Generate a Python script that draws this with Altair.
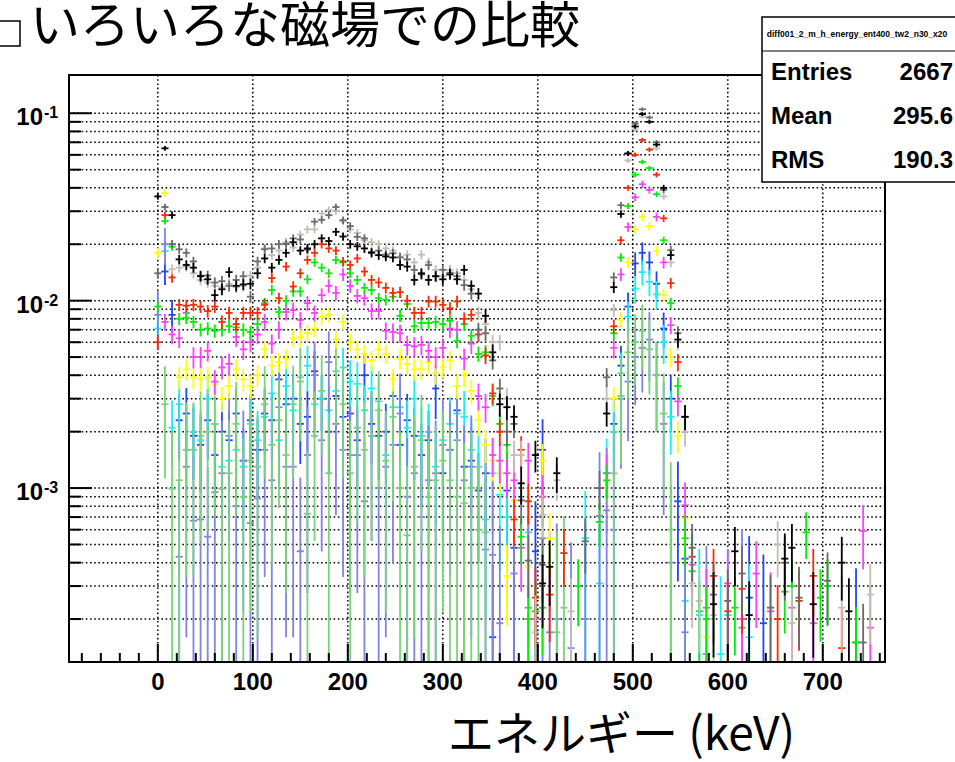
import math

import altair as alt
import pandas as pd

# ---------------------------------------------------------------------------
# Histogram contents: energy spectra for several magnetic-field settings,
# each normalised to unit area.  Bin i is centred at i * BIN_WIDTH keV.
# Values are in units of 1e-4; None marks an empty bin.
# ---------------------------------------------------------------------------
BIN_WIDTH = 7.5
N_BINS = 103
BIN_CENTERS = [BIN_WIDTH * i for i in range(N_BINS)]
UNIT = 1e-4
N = None

black = [
    360, 650, 286, 166, 155, 150, 135, 130, 107, 115,
    142, 120, 122, 123, 140, 168, 150, 165, 180, 205,
    185, 190, 200, 215, 208, 233, 220, 200, 195, 190,
    180, 175, 172, 170, 155, 152, 129, 140, 129, 135,
    130, 138, 130, 146, 120, 109, 83, 53, 28, 27,
    24, 10.6, N, 15, 3.1, 3.8, 12, N, N, N,
    N, N, N, 25, 118, 290, 610, 850, 990, 900,
    680, 400, 175, 62, 24, N, N, N, 2.4, N,
    N, 4.6, N, 2.1, N, N, N, N, 4.2, 4.8,
    N, N, 2.4, N, N, N, 4.0, 2.2, N, N,
    N, N, N,
]
gray = [
    140, 316, 200, 188, 180, 162, 136, 136, 125, 127,
    120, 129, 135, 105, 162, 188, 190, 200, 201, 215,
    212, 187, 264, 270, 286, 316, 269, 250, 219, 215,
    182, 185, 176, 179, 170, 166, 146, 138, 155, 135,
    146, 141, 135, 121, 109, 70, 67, 48, 34, 20,
    22, 8.6, 4.1, N, 3.9, N, N, N, N, N,
    5.2, N, 10, 39, 133, 323, 610, 880, 1050, 950,
    700, 390, 186, 67, 24, 4.8, N, N, 2.7, N,
    2.5, N, 3.5, N, N, N, 2.3, N, 4.0, N,
    2.6, N, N, N, 3.2, N, N, N, N, 1.5,
    N, N, N,
]
lightgray = [
    N, N, 147, 150, 152, 140, 129, 125, 120, 118,
    123, 118, 120, 136, 150, 190, 175, 185, 205, 192,
    225, 240, 240, 292, 305, 300, 264, 240, 230, 210,
    205, 200, 190, 185, 172, 176, 160, 176, 160, 146,
    135, 146, 140, 129, 115, 86, 75, 60, 60, 30,
    15, 15, N, 1.7, 7.2, N, 11, N, 2.2, N,
    N, N, N, 30, 89, 300, 560, 820, 960, 900,
    650, 360, 160, 60, 20, 3.1, 2.5, N, 2.1, N,
    N, N, N, N, N, N, N, 5.0, N, 1.9,
    N, N, N, N, N, N, 2.3, N, N, N,
    2.7, N, N,
]
red = [
    60, 286, 133, 95, 94, 95, 93, 88, 93, 77,
    86, 75, 86, 86, 86, 95, 132, 103, 152, 119,
    140, 165, 180, 200, 190, 185, 162, 155, 168, 143,
    129, 125, 117, 110, 111, 100, 86, 86, 99, 99,
    95, 91, 99, 80, 84, 66, 51, 32, 20, N,
    6.8, 16, 8.5, 2.6, N, 2.7, N, 4.5, N, N,
    N, N, N, N, 73, 210, 400, 600, 720, 640,
    470, 275, 124, 47, N, 4.3, N, N, 3.4, N,
    2.2, N, 2.9, N, N, N, N, 2.0, N, N,
    2.5, N, 3.4, N, N, N, 1.4, N, N, N,
    N, N, N,
]
green = [
    93, 266, 194, 80, 81, 77, 70, 71, 69, 70,
    73, 72, 70, 68, 75, 97, 114, 87, 100, 112,
    112, 130, 160, 150, 140, 165, 160, 140, 129, 117,
    114, 103, 101, 105, 83, 96, 73, 76, 76, 77,
    75, 78, 61, 75, 65, 52, 53, 31, 22, 17,
    N, 5.5, 2.0, 2.2, 2.3, N, N, N, N, 3.0,
    N, N, 6.6, 11, 67, 170, 320, 470, 550, 510,
    370, 210, 97, 35, 5.4, 3.6, 2.2, 2.0, N, N,
    N, 2.3, N, N, N, N, N, N, 2.8, 3.0,
    N, 5.8, N, 2.6, 3.0, N, N, N, 1.5, N,
    N, N, N,
]
magenta = [
    N, 77, 66, 63, 86, 50, 50, 54, 37, 44,
    46, 64, 55, 60, 66, 77, 59, 70, 87, 89,
    79, 97, 86, 107, 120, 110, 138, 120, 106, 103,
    88, 88, 69, 68, 67, 58, 57, 58, 54, 50,
    56, 71, 70, 49, 59, 31, 27, 15, 14, 12,
    11, 4.8, 14, 2.0, 9.0, N, N, N, N, N,
    N, N, N, 12, 56, 138, 247, 356, 418, 390,
    280, 160, 74, 29, 8.1, 3.9, N, 2.3, N, N,
    3.1, N, 2.0, N, 3.5, N, 2.2, N, N, 2.3,
    N, N, 1.9, N, N, N, N, N, N, 5.9,
    1.8, N, N,
]
yellow = [
    180, 375, N, 39, 43, 39, 38, 39, 36, 30,
    35, 43, 38, 35, 40, 55, 45, 47, 49, 63,
    64, 67, 71, 82, 84, 62, 77, 60, 55, 52,
    48, 55, 52, 38, 49, 46, 43, 43, 47, 41,
    44, 48, 35, 40, 33, 23, 17, 14, 12, 3.4,
    8.6, N, 3.8, N, 14, 5.4, N, N, N, N,
    N, N, N, N, 30, 79, 160, 240, 280, 250,
    184, 107, 50, 19, 6.9, N, N, 1.6, N, N,
    N, N, N, N, N, N, N, N, N, N,
    N, N, N, N, N, N, N, N, N, N,
    N, N, N,
]
blue = [
    N, 143, 84, 23, 25, 19, 17, 23, 15, 20,
    18, 25, 14, 23, 16, 25, 23, 38, 28, 30,
    22, 24, 42, 30, 20, 31, 24, 25, 18, 40,
    22, 19, 20, 31, 17, 23, 19, 15, 18, 34,
    12, 16, 26, 13, 14, 9.7, 12, 1.6, N, 9.7,
    4.8, N, N, 4.6, 16, N, N, N, N, N,
    N, N, N, N, 22, 45, 93, 158, 180, 160,
    123, 71, 30, 8.5, 4.2, N, N, N, N, N,
    N, N, N, 2.6, N, 1.9, N, N, N, N,
    N, N, N, N, N, N, N, N, 1.5, N,
    N, N, N,
]
cyan = [
    71, 184, 21, 28, 16, 20, 18, 30, 22, 13,
    14, 16, 13, 22, 18, 24, 32, 18, 35, 26,
    39, 45, 28, 30, 26, 33, 44, 37, 36, 26,
    34, 29, 15, 27, 27, 21, 30, 19, 20, 13,
    18, 22, 25, 24, 16, 13, 6.8, 12, 9.2, 7.0,
    N, N, 5.8, N, N, N, N, N, N, N,
    5.4, N, 3.1, 12, 20, 41, 82, 116, 142, 126,
    108, 60, 24, N, 2.5, N, 2.1, N, N, 1.3,
    2.1, N, N, 1.6, N, N, N, N, N, N,
    N, N, N, N, N, N, N, N, N, N,
    N, N, N,
]
slate = [
    84, 200, N, 4.3, 13, 6.7, 6.8, 5.5, 9.5, 12,
    19, 8, 14, 6.5, 8.8, 16, 11, 27, 13, 13,
    4.6, 15, 40, 18, 47, 22, 16, 15, 15, 8.5,
    19, 10, 13, 17, 25, 9, 12, 7, 11, 12,
    17, 16, 18, 11, 13, N, 4.7, 4.4, 1.9, N,
    3.5, N, 2.3, N, 5.4, 1.7, 2.0, N, 1.4, N,
    2.0, N, 7.1, 7.6, 6.0, 30, 37, 50, 56, 62,
    40, 22, 4.0, N, 1.7, N, N, 1.3, N, N,
    N, N, 1.8, N, N, N, N, N, N, N,
    N, N, N, N, N, N, N, N, N, N,
    N, N, N,
]
lightgreen = [
    N, 28, 9.9, 11, 16, 16, 19, 20, 22, 9.9,
    12, 22, 9.0, 14, 13, 28, 17, 23, 15, 28,
    37, 7.3, 19, 33, 12, 42, 28, 12, 21, 16,
    19, 26, 14, 24, 10, 5.6, 13, 18, 9, 11,
    14, 11, 9, 8.3, 10, 6, 5.8, N, N, N,
    N, N, N, N, N, N, 1.7, 2.3, N, N,
    N, N, N, N, 12, 31, 53, 60, 69, 55,
    40, 25, 6, N, N, N, N, N, N, N,
    N, N, N, N, N, N, N, N, N, N,
    N, N, N, N, N, N, N, N, N, N,
    N, N, N,
]

# Drawing order (first drawn ends up underneath), colours and the effective
# number of entries used for the Poisson error bars of each spectrum.
SERIES = ["blue", "cyan", "slate", "lightgreen", "yellow", "magenta",
          "green", "red", "lightgray", "gray", "black"]
VALUES = [blue, cyan, slate, lightgreen, yellow, magenta,
          green, red, lightgray, gray, black]
COLORS = ["#1f45ff", "#19f0f0", "#8282e6", "#78d478", "#ffff00", "#ff40ff",
          "#00f000", "#ff2a00", "#c5bdb4", "#6b6b6b", "#000000"]
ENTRIES = [3000, 3000, 1000, 1000, 14000, 12000,
           22000, 19000, 18000, 18000, 18000]

# Axis ranges and ticks
X_MIN, X_MAX = -93.5, 765.5
Y_MIN, Y_MAX = 1.18e-4, 0.16
X_MAJOR = [0, 100, 200, 300, 400, 500, 600, 700]
X_LABELS = ["0", "100", "200", "300", "400", "500", "600", "700"]
X_MINOR = [v for v in range(-80, 761, 20) if v % 100 != 0]
Y_MAJOR = [1e-3, 1e-2, 1e-1]
Y_EXPONENTS = ["-3", "-2", "-1"]
Y_MINOR = [m * d for d in (1e-4, 1e-3, 1e-2) for m in range(2, 10)]
Y_GRID = sorted(Y_MINOR + Y_MAJOR)

# Plot-area geometry in pixels
PLOT_W, PLOT_H = 816, 587
LEFT, TOP = 69, 75

FONT = "Liberation Sans"
CJK = "Noto Sans CJK JP"
DOTS = [1.6, 2.6]

# One rule per cross arm: horizontal = bin width, vertical = +-1 sigma
rows = []
for name, vals, n_ent in zip(SERIES, VALUES, ENTRIES):
    for c, raw in zip(BIN_CENTERS, vals):
        if raw is None:
            continue
        v = raw * UNIT
        err = math.sqrt(v / n_ent)
        lo = max(v - err, Y_MIN)
        hi = min(v + err, Y_MAX)
        half = BIN_WIDTH / 2
        rows.append({"series": name, "x": c - half, "x2": c + half, "y": v, "y2": v})
        rows.append({"series": name, "x": c, "x2": c, "y": lo, "y2": hi})
hist = pd.DataFrame(rows)

x_scale = alt.Scale(domain=[X_MIN, X_MAX], nice=False, zero=False)
y_scale = alt.Scale(type="log", domain=[Y_MIN, Y_MAX], nice=False)


def xq(field):
    return alt.X(field, scale=x_scale, axis=None)


def yq(field):
    return alt.Y(field, scale=y_scale, axis=None)


y_major_df = pd.DataFrame({"value": Y_MAJOR, "exp": Y_EXPONENTS})
y_minor_df = pd.DataFrame({"value": Y_MINOR})
y_grid_df = pd.DataFrame({"value": Y_GRID})
x_major_df = pd.DataFrame({"value": X_MAJOR, "label": X_LABELS})
x_minor_df = pd.DataFrame({"value": X_MINOR})

# Dotted grid
x_grid = alt.Chart(x_major_df).mark_rule(
    color="black", strokeWidth=1.5, strokeDash=DOTS).encode(
    x=xq("value:Q"), y=alt.value(0), y2=alt.value(PLOT_H))
y_grid = alt.Chart(y_grid_df).mark_rule(
    color="black", strokeWidth=1.5, strokeDash=DOTS).encode(
    y=yq("value:Q"), x=alt.value(0), x2=alt.value(PLOT_W))

# Data points with error bars
crosses = alt.Chart(hist).mark_rule(strokeWidth=1.8, clip=True).encode(
    x=xq("x:Q"), x2="x2:Q", y=yq("y:Q"), y2="y2:Q",
    color=alt.Color("series:N", scale=alt.Scale(domain=SERIES, range=COLORS),
                    legend=None),
)

one = pd.DataFrame({"k": [0]})

# Frame around the plot area
frame = alt.Chart(one).mark_rect(fillOpacity=0, stroke="black", strokeWidth=2).encode(
    x=alt.value(0), x2=alt.value(PLOT_W), y=alt.value(0), y2=alt.value(PLOT_H))

# Inward tick marks on the frame
y_major_ticks = alt.Chart(y_major_df).mark_rule(color="black", strokeWidth=2).encode(
    y=yq("value:Q"), x=alt.value(0), x2=alt.value(23))
y_minor_ticks = alt.Chart(y_minor_df).mark_rule(color="black", strokeWidth=2).encode(
    y=yq("value:Q"), x=alt.value(0), x2=alt.value(12))
x_major_ticks = alt.Chart(x_major_df).mark_rule(color="black", strokeWidth=2).encode(
    x=xq("value:Q"), y=alt.value(PLOT_H), y2=alt.value(PLOT_H - 18))
x_minor_ticks = alt.Chart(x_minor_df).mark_rule(color="black", strokeWidth=2).encode(
    x=xq("value:Q"), y=alt.value(PLOT_H), y2=alt.value(PLOT_H - 9))

# Tick labels
x_labels = alt.Chart(x_major_df).mark_text(
    align="center", baseline="middle", font=FONT, fontSize=24,
    fontWeight="bold", color="black").encode(
    x=xq("value:Q"), y=alt.value(PLOT_H + 21), text="label:N")
y_base = alt.Chart(y_major_df).mark_text(
    align="right", baseline="alphabetic", dy=12, font=FONT, fontSize=24,
    fontWeight="bold", color="black").encode(
    y=yq("value:Q"), x=alt.value(43 - LEFT), text=alt.value("10"))
y_exp = alt.Chart(y_major_df).mark_text(
    align="left", baseline="alphabetic", dy=5, font=FONT, fontSize=16,
    fontWeight="bold", color="black").encode(
    y=yq("value:Q"), x=alt.value(44 - LEFT), text="exp:N")


def px(x, y):
    """Absolute canvas pixel -> plot-area coordinates."""
    return alt.value(x - LEFT), alt.value(y - TOP)


def text_at(label, x, y, size, align="left", font=FONT, weight="bold", baseline="middle"):
    vx, vy = px(x, y)
    return alt.Chart(one).mark_text(
        text=label, align=align, baseline=baseline, font=font, fontSize=size,
        fontWeight=weight, color="black").encode(x=vx, y=vy)


def box(x1, y1, x2, y2, width=1.5):
    a, b = px(x1, y1)
    c, d = px(x2, y2)
    return alt.Chart(one).mark_rect(fill="white", stroke="black", strokeWidth=width).encode(
        x=a, y=b, x2=c, y2=d)


def hline(x1, x2, y, width=1.5):
    a, b = px(x1, y)
    c, _ = px(x2, y)
    return alt.Chart(one).mark_rule(color="black", strokeWidth=width).encode(x=a, x2=c, y=b)


# Title with its pave
title_box = box(-10, 21, 20, 46)
title = text_at("いろいろな磁場での比較", 30, 43, 50, font=CJK, weight="normal",
                baseline="alphabetic")

# Statistics box
stats = [
    box(762, 17, 965, 182),
    hline(762, 965, 51, 1.2),
    text_at("diff001_2_m_h_energy_ent400_tw2_n30_x20", 857, 34, 8.5, align="center"),
    text_at("Entries", 771, 73, 24),
    text_at("2667", 953, 73, 24, align="right"),
    text_at("Mean", 771, 117, 24),
    text_at("295.6", 953, 117, 24, align="right"),
    text_at("RMS", 771, 161, 24),
    text_at("190.3", 953, 161, 24, align="right"),
]

x_title = text_at("エネルギー (keV)", 795, 750, 46, align="right", font=CJK,
                  weight="normal", baseline="alphabetic")

chart = alt.layer(
    x_grid, y_grid, crosses, frame,
    y_major_ticks, y_minor_ticks, x_major_ticks, x_minor_ticks,
    x_labels, y_base, y_exp, title_box, title, x_title, *stats,
).properties(
    width=PLOT_W, height=PLOT_H,
    padding={"left": LEFT, "top": TOP, "right": 955 - LEFT - PLOT_W,
             "bottom": 762 - TOP - PLOT_H},
    autosize=alt.AutoSizeParams(type="none"),
).configure(
    background="white",
).configure_view(
    strokeWidth=0,
)

chart.save("out.html", embed_options={"renderer": "svg", "actions": False})
